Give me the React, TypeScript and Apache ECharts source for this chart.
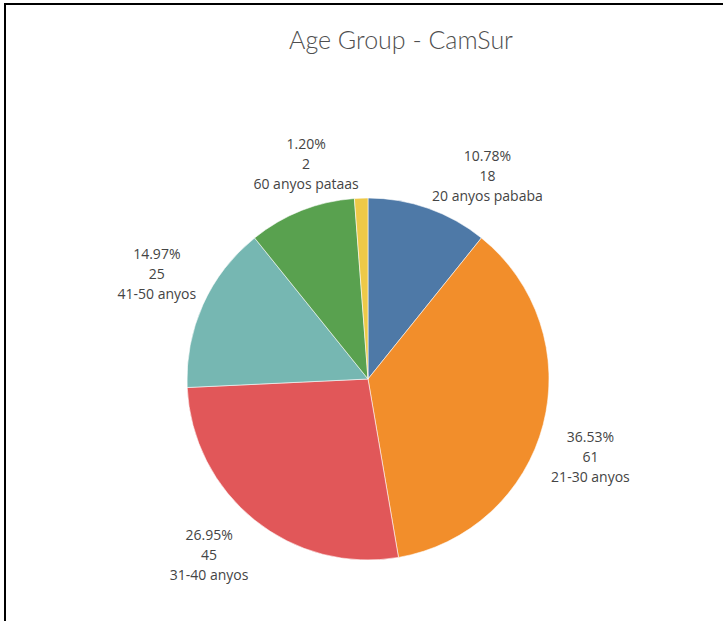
import React, { useEffect, useRef } from "react";
import * as echarts from "echarts";

const categories = [
  "20 anyos pababa",
  "21-30 anyos",
  "31-40 anyos",
  "41-50 anyos",
  "51-60 anyos",
  "60 anyos pataas",
];
const counts = [18, 61, 45, 25, 16, 2];
const showLabel = [true, true, true, true, false, true];
const colors = ["#4e79a7", "#f28e2b", "#e15759", "#76b7b2", "#59a14f", "#edc948"];
const titleText = "Age Group - CamSur";

// label nudges (px) relative to the mid-angle placement
const labelNudge = [
  [41, 19],
  [-6, 18],
  [-11, -8],
  [4, -9],
  [0, 0],
  [-53, 20],
];

export default function App() {
  const ref = useRef<HTMLDivElement>(null);
  useEffect(() => {
    document.body.style.margin = "0";
    const chart = echarts.init(ref.current!, null, { renderer: "svg" });
    const total = counts.reduce((a, b) => a + b, 0);
    const cx = 368;
    const cy = 379;
    const r = 181;
    const data = categories.map((c, i) => ({
      name: c,
      value: counts[i],
      itemStyle: { color: colors[i] },
    }));
    const labelData = categories.map((c, i) => ({
      name: c,
      value: counts[i],
      label: { show: showLabel[i] },
    }));
    chart.setOption({
      animation: false,
      backgroundColor: "#ffffff",
      title: {
        text: titleText,
        left: 396,
        top: 21,
        textAlign: "center",
        textStyle: {
          fontFamily: "Lato",
          fontWeight: 300,
          fontSize: 25,
          color: "#4f4f4f",
        },
      },
      graphic: [
        {
          type: "line",
          shape: { x1: 5, y1: 4, x2: 5, y2: 621 },
          style: { stroke: "#000", lineWidth: 2 },
        },
        {
          type: "line",
          shape: { x1: 4, y1: 4, x2: 723, y2: 4 },
          style: { stroke: "#000", lineWidth: 2 },
        },
      ],
      series: [
        {
          type: "pie",
          center: [cx, cy],
          radius: [0, r],
          startAngle: 90,
          clockwise: true,
          silent: true,
          label: { show: false },
          labelLine: { show: false },
          itemStyle: { borderColor: "rgba(255,255,255,0.7)", borderWidth: 0.8 },
          data,
        },
        {
          type: "pie",
          center: [cx, cy],
          radius: [r, 285],
          startAngle: 90,
          clockwise: true,
          silent: true,
          itemStyle: { color: "transparent", borderWidth: 0 },
          labelLine: { show: false },
          label: {
            show: true,
            position: "inside",
            fontFamily: "Open Sans",
            fontSize: 14,
            lineHeight: 20,
            color: "#444444",
            align: "center",
            formatter: (p: any) =>
              `${((p.value / total) * 100).toFixed(2)}%\n${p.value}\n${p.name}`,
          },
          labelLayout: (p: any) => ({
            dx: labelNudge[p.dataIndex][0],
            dy: labelNudge[p.dataIndex][1],
          }),
          data: labelData,
        },
      ],
    });
    return () => chart.dispose();
  }, []);
  return <div ref={ref} style={{ width: 723, height: 621 }} />;
}
